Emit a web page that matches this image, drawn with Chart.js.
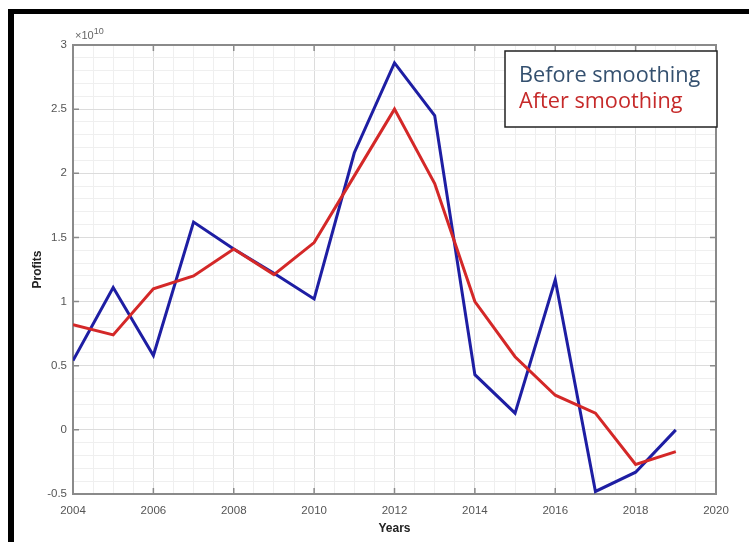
<!DOCTYPE html>
<html>
<head>
<meta charset="utf-8">
<script src="https://cdn.jsdelivr.net/npm/chart.js@4.4.1/dist/chart.umd.min.js"></script>
<style>
  html, body { margin: 0; padding: 0; background: #fff; }
  #wrap { position: relative; width: 749px; height: 542px; overflow: hidden; }
  #chart { position: absolute; left: 0; top: 0; }
  #frame { position: absolute; left: 8px; top: 9px; right: -10px; bottom: -10px;
           border-left: 6px solid #000; border-top: 5px solid #000; pointer-events: none; }
</style>
</head>
<body>
<div id="wrap">
  <canvas id="chart" width="749" height="542"></canvas>
  <div id="frame"></div>
</div>
<script>
// values in units of 10^10
const years = [2004, 2005, 2006, 2007, 2008, 2009, 2010, 2011, 2012, 2013, 2014, 2015, 2016, 2017, 2018, 2019];
const beforeSmoothing = [0.54, 1.11, 0.58, 1.62, 1.41, 1.22, 1.02, 2.16, 2.86, 2.45, 0.43, 0.13, 1.17, -0.48, -0.33, 0.0];
const afterSmoothing = [0.82, 0.74, 1.10, 1.20, 1.41, 1.21, 1.46, 1.98, 2.50, 1.92, 1.00, 0.57, 0.27, 0.13, -0.27, -0.17];
const xTicks = [2004, 2006, 2008, 2010, 2012, 2014, 2016, 2018, 2020];
const yTicks = [-0.5, 0, 0.5, 1, 1.5, 2, 2.5, 3];

const legendItems = [
  { text: 'Before smoothing', color: '#34506f' },
  { text: 'After smoothing', color: '#c62a2a' },
];

const isMajorX = v => xTicks.includes(v);
const isMajorY = v => yTicks.some(t => Math.abs(t - v) < 1e-6);

const tickFont = { family: 'Liberation Sans', size: 11.5 };
const gridColor = major => (major ? '#dcdcdc' : '#efefef');

// box on top/right, inward tick marks, exponent label, legend box
const decorations = {
  id: 'decorations',
  afterDraw(chart) {
    const { ctx, chartArea: a, scales } = chart;
    ctx.save();
    ctx.strokeStyle = '#8a8a8a';
    ctx.lineWidth = 2;
    ctx.beginPath();
    ctx.moveTo(a.left, a.top);
    ctx.lineTo(a.right, a.top);
    ctx.lineTo(a.right, a.bottom);
    ctx.stroke();

    ctx.lineWidth = 1.5;
    ctx.beginPath();
    xTicks.forEach(v => {
      const x = scales.x.getPixelForValue(v);
      ctx.moveTo(x, a.bottom); ctx.lineTo(x, a.bottom - 6);
      ctx.moveTo(x, a.top); ctx.lineTo(x, a.top + 6);
    });
    yTicks.forEach(v => {
      const y = scales.y.getPixelForValue(v);
      ctx.moveTo(a.left, y); ctx.lineTo(a.left + 6, y);
      ctx.moveTo(a.right, y); ctx.lineTo(a.right - 6, y);
    });
    ctx.stroke();

    // x10^10
    ctx.fillStyle = '#666';
    ctx.textBaseline = 'alphabetic';
    ctx.textAlign = 'left';
    ctx.font = '11px "Liberation Sans"';
    ctx.fillText('\u00d710', a.left + 2, a.top - 6);
    const w = ctx.measureText('\u00d710').width;
    ctx.font = '9px "Liberation Sans"';
    ctx.fillText('10', a.left + 2 + w, a.top - 11);

    // legend
    const boxL = 505, boxT = 51, boxR = a.right + 1, boxB = 127;
    ctx.fillStyle = '#fff';
    ctx.fillRect(boxL, boxT, boxR - boxL, boxB - boxT);
    ctx.strokeStyle = '#222';
    ctx.lineWidth = 1.5;
    ctx.strokeRect(boxL, boxT, boxR - boxL, boxB - boxT);
    ctx.font = '100px "Open Sans"';
    const size = 100 * 181 / ctx.measureText(legendItems[0].text).width;
    ctx.font = size.toFixed(1) + 'px "Open Sans"';
    legendItems.forEach((item, i) => {
      ctx.fillStyle = item.color;
      ctx.fillText(item.text, 519, 82 + i * 26);
    });
    ctx.restore();
  },
};

new Chart(document.getElementById('chart'), {
  type: 'line',
  data: {
    datasets: [
      {
        label: 'Before smoothing',
        data: years.map((y, i) => ({ x: y, y: beforeSmoothing[i] })),
        borderColor: '#1e1ea3',
        borderWidth: 3,
        pointRadius: 0,
        tension: 0,
        order: 1,
      },
      {
        label: 'After smoothing',
        data: years.map((y, i) => ({ x: y, y: afterSmoothing[i] })),
        borderColor: '#d42828',
        borderWidth: 3,
        pointRadius: 0,
        tension: 0,
        order: 0,
      },
    ],
  },
  options: {
    responsive: false,
    animation: false,
    layout: { padding: { top: 45, right: 33, left: 0, bottom: 0 } },
    plugins: { legend: { display: false }, tooltip: { enabled: false } },
    scales: {
      x: {
        type: 'linear',
        min: 2004,
        max: 2020,
        afterFit: s => { s.height = 48; },
        ticks: {
          stepSize: 0.5,
          autoSkip: false,
          maxRotation: 0,
          maxTicksLimit: 100,
          padding: 10,
          color: '#555',
          font: tickFont,
          callback: v => (isMajorX(v) ? String(v) : ''),
        },
        grid: { color: c => gridColor(isMajorX(c.tick.value)), lineWidth: 1, drawTicks: false },
        border: { color: '#8a8a8a', width: 2 },
        title: {
          display: true,
          text: 'Years',
          color: '#222',
          font: { family: 'Liberation Sans', size: 12, weight: 'bold' },
          padding: { top: 0, bottom: 6 },
        },
      },
      y: {
        min: -0.5,
        max: 3,
        afterFit: s => { s.width = 73; },
        ticks: {
          stepSize: 0.1,
          autoSkip: false,
          maxTicksLimit: 100,
          padding: 6,
          color: '#555',
          font: tickFont,
          callback: v => (isMajorY(v) ? String(Math.round(v * 10) / 10) : ''),
        },
        grid: { color: c => gridColor(isMajorY(c.tick.value)), lineWidth: 1, drawTicks: false },
        border: { color: '#8a8a8a', width: 2 },
        title: {
          display: true,
          text: 'Profits',
          color: '#222',
          font: { family: 'Liberation Sans', size: 12, weight: 'bold' },
          padding: { top: 30, bottom: 0 },
        },
      },
    },
  },
  plugins: [decorations],
});
</script>
</body>
</html>
